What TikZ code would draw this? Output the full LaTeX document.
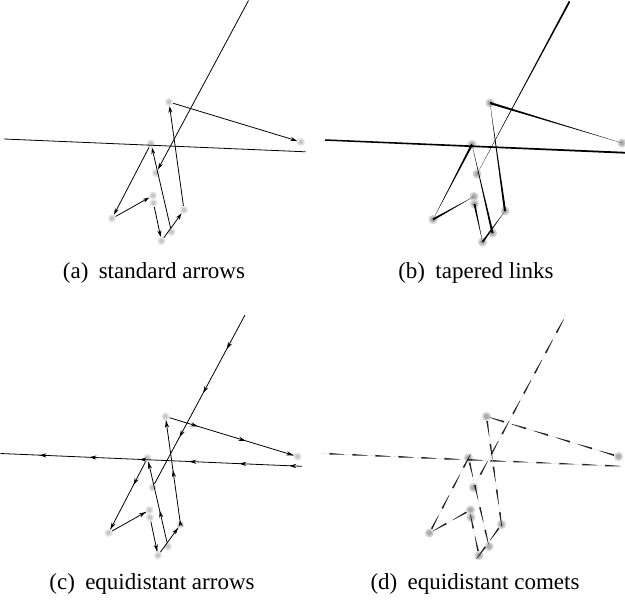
\documentclass[tikz,border=0pt]{standalone}
\usepackage{fontspec}
\setmainfont{Liberation Serif}
\usetikzlibrary{arrows.meta,calc,decorations.markings}

\tikzset{
  glowA/.style={circle, inner sep=0pt, minimum size=8pt, fill=gray!22,
    path picture={\fill[gray!45] (path picture bounding box.center) circle (2.2pt);}},
  glowB/.style={circle, inner sep=0pt, minimum size=9pt, fill=gray!35,
    path picture={\fill[gray!65] (path picture bounding box.center) circle (2.6pt);}},
  arrA/.style={draw=black, line width=0.8pt, -{Stealth[length=6.5pt,width=4pt]}},
  lineA/.style={draw=black, line width=0.8pt},
  thinB/.style={draw=gray!45, line width=0.35pt},
  eqC/.style={draw=black, line width=0.8pt, postaction={decorate},
    decoration={markings, mark=between positions #1 and 1 step 50pt with
      {\arrowreversed{Stealth[length=7pt,width=4.2pt]}}}},
  eqC/.default=0,
  comD/.style={draw=gray!30, line width=0.35pt, postaction={decorate},
    decoration={markings, mark=between positions #1 and 1 step 23pt with
      {\fill[black!85] (0pt,0.85pt) -- (15pt,0.2pt) -- (15pt,-0.2pt) -- (0pt,-0.85pt) -- cycle;}}},
  comD/.default=0,
  captext/.style={anchor=base, inner sep=0pt, font=\fontsize{23}{27}\selectfont}
}

\newcommand\placenodes[2]{%
  \node[#2] (#1n1) at (169,102) {};
  \node[#2] (#1n2) at (301,142) {};
  \node[#2] (#1n3) at (151,143.5) {};
  \node[#2] (#1n4) at (156,173) {};
  \node[#2] (#1n5) at (153,195.5) {};
  \node[#2] (#1m5) at (153.5,203) {};
  \node[#2] (#1n6) at (112,218.5) {};
  \node[#2] (#1n7) at (161.5,241) {};
  \node[#2] (#1n8) at (171.5,232) {};
  \node[#2] (#1n9) at (184,210) {};
  \coordinate (#1T) at (248.5,0.5);
  \coordinate (#1L) at (4,139);
  \coordinate (#1R) at (305.5,151.8);
}

\newcommand\taper[3]{%
  \draw[thinB] (#1) -- (#2);
  \fill[black] ($(#1)!#3!90:(#2)$) -- ($(#1)!#3!-90:(#2)$) -- (#2.center) -- cycle;
}

\begin{document}
\begin{tikzpicture}[x=1pt,y=-1pt]
\useasboundingbox (0,0) rectangle (625,600);

% (a) standard arrows
\begin{scope}
  \placenodes{a}{glowA}
  \draw[arrA] (aT) -- (an4);
  \draw[lineA] (aR) -- (aL);
  \draw[arrA] (an1) -- (an2);
  \draw[arrA] (an9) -- (an1);
  \draw[arrA] (an3) -- (an6);
  \draw[arrA] (an6) -- (an5);
  \draw[arrA] (am5) -- (an7);
  \draw[arrA] (an7) -- (an9);
  \draw[arrA] (an8) -- (an3);
\end{scope}
\node[captext] (capa) at (154,278) {(a)\hspace{0.45em}standard arrows};

% (b) tapered links
\begin{scope}[shift={(321,1)}]
  \placenodes{b}{glowB}
  \taper{bT}{bn4}{0.9pt}
  \draw[thinB] (bR) -- (bL);
  \fill[black] ($(bR)!0.9pt!90:(bL)$) -- ($(bR)!0.9pt!-90:(bL)$)
     -- ($(bL)!0.75pt!90:(bR)$) -- ($(bL)!0.75pt!-90:(bR)$) -- cycle;
  \taper{bn1}{bn2}{1.1pt}
  \taper{bn9}{bn1}{1.05pt}
  \taper{bn3}{bn6}{1.05pt}
  \taper{bn6}{bn5}{1.0pt}
  \taper{bm5}{bn7}{0.95pt}
  \taper{bn7}{bn9}{0.9pt}
  \taper{bn8}{bn3}{1.05pt}
\end{scope}
\node[captext] (capb) at (476,278) {(b)\hspace{0.45em}tapered links};

% (c) equidistant arrows
\begin{scope}[shift={(-3.5,314.5)}]
  \placenodes{c}{glowA}
  \draw[eqC=53pt] (cn4) -- (cT);
  \draw[eqC=39pt] (cL) -- (cR);
  \draw[eqC] (cn2) -- (cn1);
  \draw[eqC] (cn1) -- (cn9);
  \draw[eqC] (cn6) -- (cn3);
  \draw[eqC] (cn5) -- (cn6);
  \draw[eqC] (cn7) -- (cm5);
  \draw[eqC] (cn9) -- (cn7);
  \draw[eqC] (cn3) -- (cn8);
\end{scope}
\node[captext] (capc) at (152,589) {(c)\hspace{0.45em}equidistant arrows};

% (d) equidistant comets
\begin{scope}[shift={(317.5,314.5)}]
  \placenodes{d}{glowB}
  \draw[comD=10pt] (dn4) -- (dT);
  \draw[comD=8pt] (dL) -- (dR);
  \draw[comD] (dn2) -- (dn1);
  \draw[comD] (dn1) -- (dn9);
  \draw[comD] (dn6) -- (dn3);
  \draw[comD] (dn5) -- (dn6);
  \draw[comD] (dn7) -- (dm5);
  \draw[comD] (dn9) -- (dn7);
  \draw[comD] (dn3) -- (dn8);
\end{scope}
\node[captext] (capd) at (475,589) {(d)\hspace{0.45em}equidistant comets};
\end{tikzpicture}
\end{document}
